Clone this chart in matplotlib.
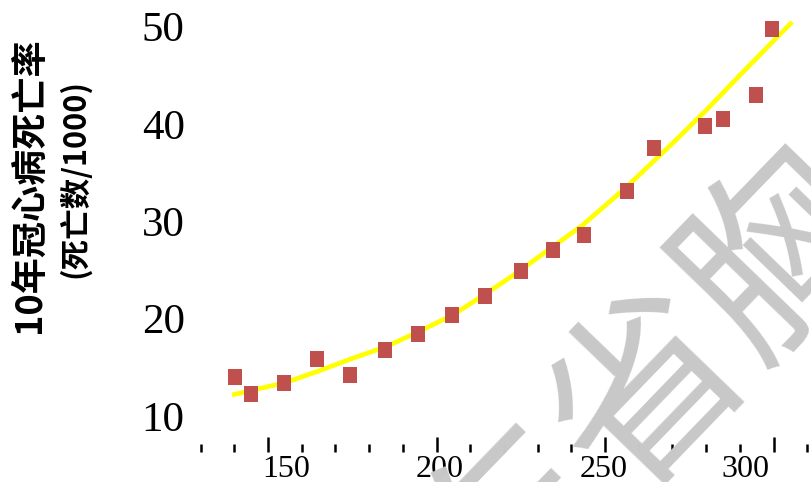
import numpy as np
import matplotlib
matplotlib.use('Agg')
import matplotlib.pyplot as plt

# ============ 数据 ============
# 散点 (胆固醇分组, 10年冠心病死亡率)
chol = [140.2, 145.0, 154.7, 164.5, 174.3, 184.7, 194.5, 204.6, 214.4,
        225.0, 234.6, 243.8, 256.5, 264.5, 279.7, 285.0, 294.8, 299.6]
death = [14.0, 12.2, 13.4, 15.8, 14.2, 16.8, 18.4, 20.4, 22.3,
         24.9, 27.0, 28.6, 33.1, 37.5, 39.8, 40.5, 43.0, 49.7]

# 拟合曲线
fit_x = [140, 155, 165, 175, 185, 195, 205, 214, 223, 243, 256, 270, 280, 290, 305]
fit_y = [12.2, 13.4, 14.6, 15.9, 17.1, 18.7, 20.4, 22.4, 24.5, 29.5, 33.4, 38.0, 41.4, 45.0, 50.3]

yticks = [10, 20, 30, 40, 50]
xtick_labels = ['150', '200', '250', '300']
xlabel_pos = [155.5, 201, 249.5, 291.5]   # 原图标签位置偏离刻度
major_ticks = [150, 200, 250, 300]
minor_ticks = np.arange(130, 320, 10)

ylabel1 = '10年冠心病死亡率'
ylabel2 = '(死亡数/1000)'
watermark = '东省胸'

# ============ 画图 ============
W, H = 811, 482
fig = plt.figure(figsize=(W / 100, H / 100), dpi=100)
ax = fig.add_axes([200 / W, (H - 452) / H, 611 / W, 452 / H])

ax.plot(fit_x, fit_y, color='#ffff00', linewidth=3.4, zorder=2)
rect = [(-7, -8), (7, -8), (7, 8), (-7, 8)]
ax.plot(chol, death, linestyle='none', marker=rect, markersize=11.5,
        color='#c0504d', markeredgewidth=0, zorder=3)

ax.set_xlim(129.8, 311.1)
ax.set_ylim(6.28, 52.73)

for s in ax.spines.values():
    s.set_visible(False)

ax.set_yticks(yticks)
ax.tick_params(axis='y', length=0, pad=11, labelsize=31)
for lab in ax.get_yticklabels():
    lab.set_family('Liberation Serif')

ax.set_xticks(major_ticks)
ax.set_xticks(minor_ticks, minor=True)
ax.tick_params(axis='x', which='major', direction='in', length=11, width=1.8,
               labelbottom=False, color='black')
ax.tick_params(axis='x', which='minor', direction='in', length=6, width=1.8,
               color='black')

sec = ax.secondary_xaxis('bottom')
sec.set_xticks(xlabel_pos, labels=xtick_labels)
sec.tick_params(length=0, pad=2, labelsize=23)
sec.spines['bottom'].set_visible(False)
for lab in sec.get_xticklabels():
    lab.set_family('Liberation Serif')

fig.text(29 / W, 1 - 185 / H, ylabel1, rotation=90, ha='center', va='center',
         fontsize=26, family=['Noto Sans CJK SC', 'DejaVu Sans'], weight='bold')
fig.text(75 / W, 1 - 178 / H, ylabel2, rotation=90, ha='center', va='center',
         fontsize=22, family=['Noto Sans CJK SC', 'DejaVu Sans'], weight='bold')

# 水印
fig.text(648 / W, 1 - 388 / H, watermark, rotation=46, rotation_mode='anchor',
         ha='center', va='center', fontsize=138, color='#c8c8c8',
         family=['Noto Sans CJK SC', 'DejaVu Sans'], zorder=10)

fig.savefig('out.png', dpi=100, facecolor='white')
